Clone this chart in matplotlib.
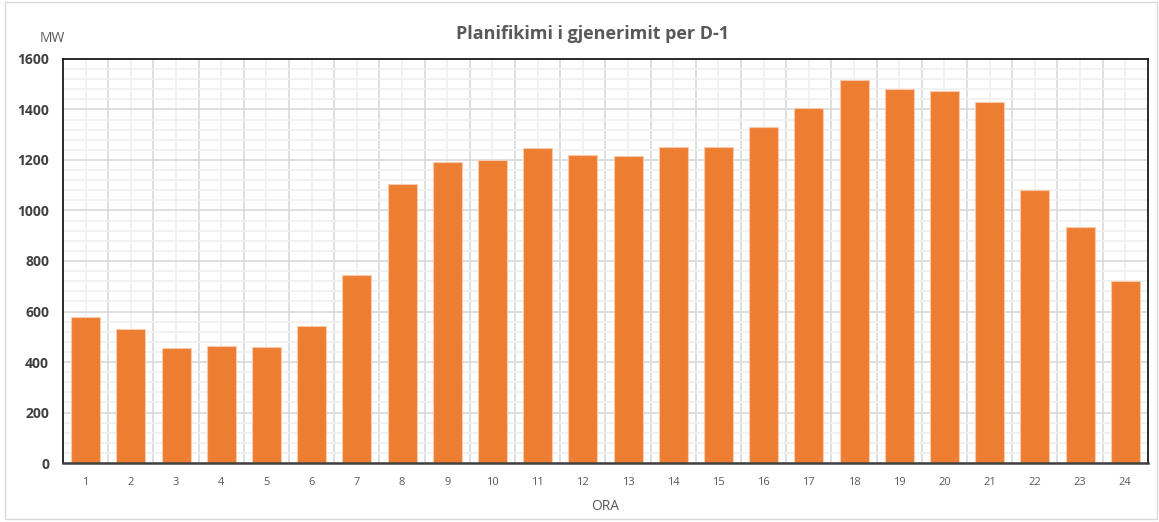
import matplotlib.pyplot as plt
from matplotlib.ticker import MultipleLocator
from matplotlib.patches import Rectangle

# te dhenat (ora, MW)
hours = list(range(1, 25))
mw = [580, 531, 457, 465, 461, 541, 743, 1103, 1192, 1200, 1249, 1221,
      1216, 1253, 1250, 1331, 1406, 1517, 1483, 1474, 1430, 1082, 936, 720]

plt.rcParams['font.family'] = ['Open Sans', 'DejaVu Sans']

fig = plt.figure(figsize=(11.59, 5.22), dpi=100)
ax = fig.add_axes([0.0544, 0.113, 0.936, 0.774])

ax.bar(hours, mw, width=0.64, color='#ED7D31', edgecolor='#F8CBAD',
       linewidth=0.8, zorder=3)

ax.set_xlim(0.5, 24.5)
ax.set_ylim(0, 1600)

# rrjeti
ax.yaxis.set_major_locator(MultipleLocator(200))
ax.yaxis.set_minor_locator(MultipleLocator(40))
ax.set_xticks(hours)
ax.set_xticks([h + 0.5 for h in hours[:-1]], minor=True)
ax.grid(which='major', axis='y', color='#d9d9d9', linewidth=1.2, zorder=0)
ax.grid(which='minor', axis='y', color='#f0f0f0', linewidth=1.2, zorder=0)
ax.grid(which='minor', axis='x', color='#d9d9d9', linewidth=1.2, zorder=0)
ax.grid(which='major', axis='x', color='#f0f0f0', linewidth=1.2, zorder=0)

for s in ax.spines.values():
    s.set_color('#1a1a1a')
    s.set_linewidth(1.3)
    s.set_zorder(5)
ax.spines['bottom'].set_color('#404040')
ax.spines['bottom'].set_linewidth(1.8)

ax.tick_params(which='both', length=0)
ax.tick_params(axis='x', pad=10, labelsize=8, labelcolor='#595959')
ax.tick_params(axis='y', pad=10, labelsize=10, labelcolor='#404040')
for lbl in ax.get_yticklabels():
    lbl.set_fontweight('bold')

ax.set_xlabel('ORA', fontsize=10, color='#595959', labelpad=8)
fig.text(0.034, 0.927, 'MW', fontsize=10, color='#595959', ha='left', va='center')
fig.text(0.511, 0.935, 'Planifikimi i gjenerimit per D-1', fontsize=13,
         fontweight='bold', color='#595959', ha='center', va='center')

# korniza e grafikut
fig.patches.append(Rectangle((0.004, 0.006), 0.994, 0.99, transform=fig.transFigure,
                             fill=False, edgecolor='#d9d9d9', linewidth=1))

fig.savefig('out.png', dpi=100)
